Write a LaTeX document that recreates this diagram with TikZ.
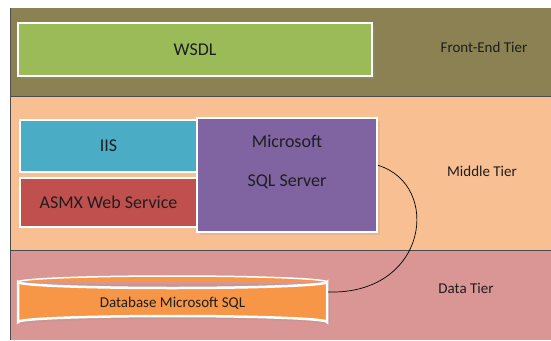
\documentclass[tikz,border=0pt]{standalone}
\usepackage{fontspec}
\setmainfont{Carlito}
\definecolor{olive}{HTML}{8C8152}
\definecolor{peach}{HTML}{F8C092}
\definecolor{pinkband}{HTML}{D99694}
\definecolor{wsdlgreen}{HTML}{9BBB59}
\definecolor{iisblue}{HTML}{4BACC6}
\definecolor{asmxred}{HTML}{C0504D}
\definecolor{sqlpurple}{HTML}{8064A2}
\definecolor{dborange}{HTML}{F79646}
\definecolor{txt}{HTML}{1E1E1E}
\begin{document}
\begin{tikzpicture}[x=1pt,y=-1pt,
  box/.style={draw=white,line width=2.5pt,inner sep=0pt,text=txt,font=\fontsize{18}{21}\selectfont},
  big/.style={text=txt,font=\fontsize{18}{21}\selectfont},
  tier/.style={text=txt,font=\fontsize{15}{18}\selectfont},
  band/.style={draw=black!70,line width=0.8pt}]
\useasboundingbox (0,0) rectangle (551,340);
\fill[white] (0,0) rectangle (551,340);
% bands
\fill[olive] (10,8) rectangle (551,96);
\fill[peach] (10,96) rectangle (551,250);
\fill[pinkband] (10,250) rectangle (551,340);
\draw[band] (10,96) -- (551,96);
\draw[band] (10,250) -- (551,250);
\draw[band] (10,8) -- (10,340);
% shadows
\fill[black!40,opacity=0.25] (21,26) rectangle (375,79);
\fill[black!40,opacity=0.25] (200,121) rectangle (380,235);
% boxes
\node[box,fill=wsdlgreen,minimum width=354pt,minimum height=53pt] (wsdl) at (195,49.5) {WSDL};
\node[box,fill=iisblue,minimum width=177pt,minimum height=52pt] (iis) at (108.5,146) {IIS};
\node[box,fill=asmxred,minimum width=177pt,minimum height=49pt] (asmx) at (108.5,202.5) {ASMX Web Service};
\node[box,fill=sqlpurple,minimum width=180pt,minimum height=114pt] (sql) at (287,175) {};
\node[big] (ms) at (287,141) {Microsoft};
\node[big] (ss) at (287,182) {SQL Server};
% tier labels
\node[tier] (fe) at (484,47) {Front-End Tier};
\node[tier] (mt) at (482,171) {Middle Tier};
\node[tier] (dt) at (466,288) {Data Tier};
% database cylinder
\fill[black!40,opacity=0.25] (21,284) -- (21,325) arc[start angle=180,end angle=360,x radius=154.5,y radius=6] -- (330,284) -- cycle;
\draw[white,line width=2.5pt,fill=dborange] (18,282) -- (18,322) arc[start angle=180,end angle=360,x radius=154.5,y radius=6] -- (327,282) arc[start angle=0,end angle=180,x radius=154.5,y radius=6] -- cycle;
\draw[white,line width=1.5pt,fill=dborange] (18,282) arc[start angle=180,end angle=360,x radius=154.5,y radius=6];
\node[tier] (db) at (172.5,303) {Database Microsoft SQL};
\coordinate (dbe) at (328,292);
% connector
\draw[black,line width=0.7pt] (sql.6) .. controls (442,185) and (428,295) .. (dbe);
\end{tikzpicture}
\end{document}
